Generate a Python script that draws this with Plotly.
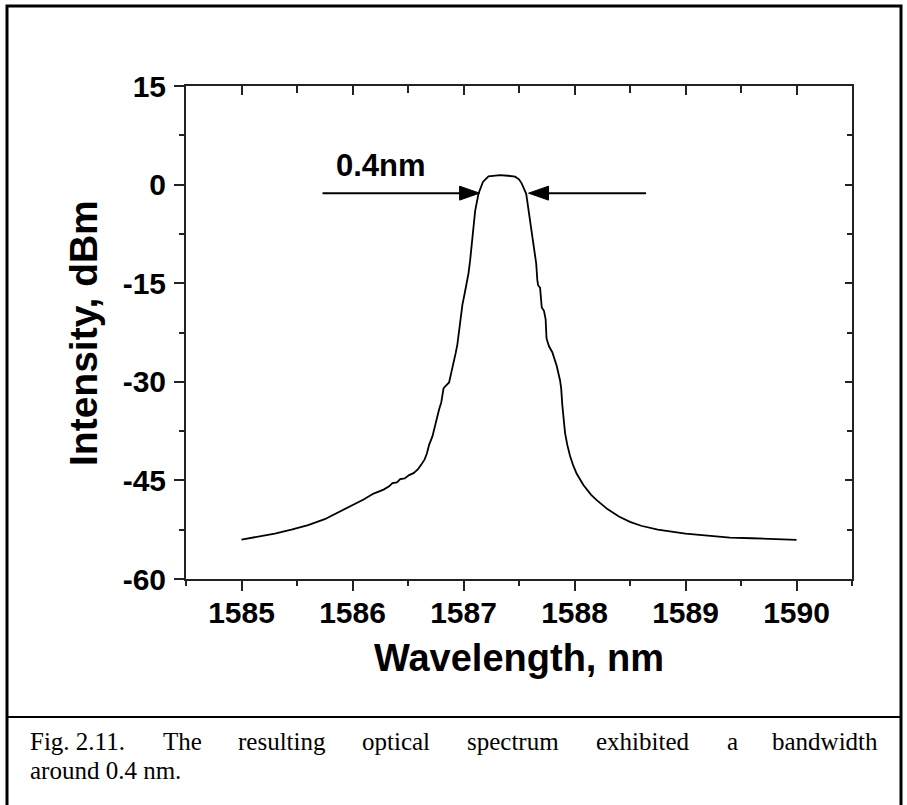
import plotly.graph_objects as go

# ---------------- data ----------------
wavelength = [
    1585.00, 1585.15, 1585.30, 1585.45, 1585.60, 1585.75, 1585.90, 1586.00, 1586.10, 1586.19,
    1586.28, 1586.33, 1586.36, 1586.40, 1586.43, 1586.47, 1586.51, 1586.55, 1586.59, 1586.62,
    1586.65, 1586.67, 1586.69, 1586.72, 1586.74, 1586.76, 1586.78, 1586.80, 1586.82, 1586.84,
    1586.87, 1586.89, 1586.91, 1586.93, 1586.945, 1586.96, 1586.975, 1586.99, 1587.01, 1587.03,
    1587.045, 1587.06, 1587.07, 1587.085, 1587.105, 1587.135, 1587.175, 1587.225, 1587.28, 1587.33,
    1587.40, 1587.465, 1587.50, 1587.525, 1587.565, 1587.585, 1587.615, 1587.635, 1587.655, 1587.665,
    1587.672, 1587.69, 1587.70, 1587.705, 1587.725, 1587.74, 1587.748, 1587.77, 1587.80, 1587.84,
    1587.87, 1587.88, 1587.89, 1587.90, 1587.915, 1587.935, 1587.96, 1587.99, 1588.02, 1588.08,
    1588.15, 1588.20, 1588.30, 1588.40, 1588.50, 1588.60, 1588.75, 1589.00, 1589.20, 1589.40,
    1589.60, 1589.80, 1590.00,
]
intensity = [
    -54.0, -53.6, -53.1, -52.5, -51.8, -50.9, -49.6, -48.8, -47.9, -47.0,
    -46.4, -45.9, -45.4, -45.3, -44.8, -44.7, -44.2, -43.9, -43.3, -42.6,
    -41.8, -40.9, -39.6, -38.3, -36.8, -35.3, -34.2, -33.1, -31.0, -30.6,
    -30.1, -28.6, -27.3, -25.6, -24.3, -22.3, -20.1, -18.3, -16.6, -15.0,
    -13.5, -11.5, -10.0, -7.4, -4.0, -1.4, 0.4, 1.25, 1.4, 1.45,
    1.35, 1.2, 0.8, 0.15, -1.4, -3.9, -7.4, -10.2, -12.0, -14.5,
    -15.3, -15.7, -17.5, -18.7, -19.2, -20.5, -23.4, -24.6, -25.5, -27.6,
    -29.8, -31.0, -33.5, -35.8, -37.8, -39.6, -41.3, -42.8, -44.0, -45.7,
    -47.2, -48.0, -49.4, -50.5, -51.3, -51.9, -52.5, -53.1, -53.4, -53.7,
    -53.8, -53.95, -54.05,
]
x_ticks = [1585, 1586, 1587, 1588, 1589, 1590]
y_ticks = [-60, -45, -30, -15, 0, 15]

bandwidth_label = "0.4nm"
arrow_level = -1.3                 # dBm
left_arrow = [1585.73, 1587.145]   # tail, tip
right_arrow = [1588.645, 1587.586] # tail, tip
head_len = 0.18                    # nm
head_half = 1.06                   # dBm

x_title = "Wavelength, nm"
y_title = "Intensity, dBm"
caption_line1 = ["Fig.\u00a02.11.", "The", "resulting", "optical", "spectrum",
                 "exhibited", "a", "bandwidth"]
caption_line2 = "around 0.4 nm."

# ---------------- layout helpers ----------------
W, H = 907, 805
L, R, T, B = 186, 852, 86, 579
def px(x):
    return (x - L) / (R - L)
def py(y):
    return (B - y) / (B - T)

AX = "#222222"
SANS = "Liberation Sans"
SERIF = "Liberation Serif"

fig = go.Figure()
fig.add_trace(go.Scatter(x=wavelength, y=intensity, mode="lines",
                         line=dict(color="black", width=1.8), hoverinfo="skip",
                         showlegend=False))
fig.add_trace(go.Scatter(x=[None], y=[None], xaxis="x2", yaxis="y2",
                         showlegend=False, hoverinfo="skip"))

shapes = []
# arrows
for tail, tip in (left_arrow, right_arrow):
    d = 1 if tip > tail else -1
    base = tip - d * head_len
    shapes.append(dict(type="line", xref="x", yref="y", x0=tail, x1=base,
                       y0=arrow_level, y1=arrow_level,
                       line=dict(color="black", width=2)))
    shapes.append(dict(type="path", xref="x", yref="y",
                       path=f"M {base},{arrow_level + head_half} L {tip},{arrow_level} "
                            f"L {base},{arrow_level - head_half} Z",
                       fillcolor="black", line=dict(color="black", width=1)))
# outer frame and caption separator
shapes.append(dict(type="rect", xref="paper", yref="paper",
                   x0=px(7), x1=px(901), y0=py(6), y1=py(830),
                   line=dict(color="black", width=3), fillcolor="rgba(0,0,0,0)",
                   layer="below"))
shapes.append(dict(type="line", xref="paper", yref="paper",
                   x0=px(7), x1=px(901), y0=py(717), y1=py(717),
                   line=dict(color="black", width=2)))

annotations = []
annotations.append(dict(x=1586.26, y=2.94, xref="x", yref="y", text=bandwidth_label,
                        showarrow=False, font=dict(family=SANS, size=31, color="black",
                                                   weight="bold")))
annotations.append(dict(x=px(519), y=py(658), xref="paper", yref="paper", text=x_title,
                        showarrow=False, xanchor="center", yanchor="middle",
                        font=dict(family=SANS, size=38, color="black", weight="bold")))
annotations.append(dict(x=px(83), y=py(333), xref="paper", yref="paper", text=y_title,
                        showarrow=False, textangle=-90, xanchor="center", yanchor="middle",
                        font=dict(family=SANS, size=39, color="black", weight="bold")))
# justified caption line 1: word positions (px)
word_x = [28, 161, 236, 360, 465, 594, 725, 770]
for wx, word in zip(word_x, caption_line1):
    annotations.append(dict(x=px(wx), y=py(741), xref="paper", yref="paper", text=word,
                            showarrow=False, xanchor="left", yanchor="middle",
                            font=dict(family=SERIF, size=25, color="black")))
annotations.append(dict(x=px(28), y=py(770), xref="paper", yref="paper", text=caption_line2,
                        showarrow=False, xanchor="left", yanchor="middle",
                        font=dict(family=SERIF, size=25, color="black")))

tickfont = dict(family=SANS, size=30, color="black", weight="bold")
fig.update_layout(
    width=W, height=H, autosize=False,
    margin=dict(l=L, r=W - R, t=T, b=H - B, pad=0),
    paper_bgcolor="white", plot_bgcolor="white",
    showlegend=False,
    xaxis=dict(range=[1584.5, 1590.5], tickvals=x_ticks, ticktext=[str(v) for v in x_ticks],
               ticks="outside", ticklen=10, tickwidth=2, tickcolor=AX,
               showline=True, linecolor=AX, linewidth=2, showgrid=False, zeroline=False,
               tickfont=tickfont, ticklabelstandoff=-4,
               minor=dict(tick0=1585, dtick=0.5, ticks="outside", ticklen=5,
                          tickwidth=2, tickcolor=AX, showgrid=False)),
    yaxis=dict(range=[-60, 15], tickvals=y_ticks, ticktext=[str(v) for v in y_ticks],
               ticks="outside", ticklen=10, tickwidth=2, tickcolor=AX,
               showline=True, linecolor=AX, linewidth=2, showgrid=False, zeroline=False,
               tickfont=tickfont, ticklabelstandoff=2,
               minor=dict(tick0=-60, dtick=7.5, ticks="outside", ticklen=5,
                          tickwidth=2, tickcolor=AX, showgrid=False)),
    xaxis2=dict(range=[1584.5, 1590.5], overlaying="x", side="top", anchor="y2",
                tickvals=x_ticks, ticks="inside", ticklen=9, tickwidth=2, tickcolor=AX,
                showticklabels=False, showline=True, linecolor=AX, linewidth=2,
                showgrid=False, zeroline=False,
                minor=dict(tick0=1585, dtick=0.5, ticks="inside", ticklen=7,
                           tickwidth=2, tickcolor=AX, showgrid=False)),
    yaxis2=dict(range=[-60, 15], overlaying="y", side="right", anchor="x2",
                tickvals=y_ticks, ticks="inside", ticklen=7, tickwidth=2, tickcolor=AX,
                showticklabels=False, showline=True, linecolor=AX, linewidth=2,
                showgrid=False, zeroline=False,
                minor=dict(tick0=-60, dtick=7.5, ticks="inside", ticklen=5,
                           tickwidth=2, tickcolor=AX, showgrid=False)),
    shapes=shapes,
    annotations=annotations,
)

fig.write_html("out.html")
